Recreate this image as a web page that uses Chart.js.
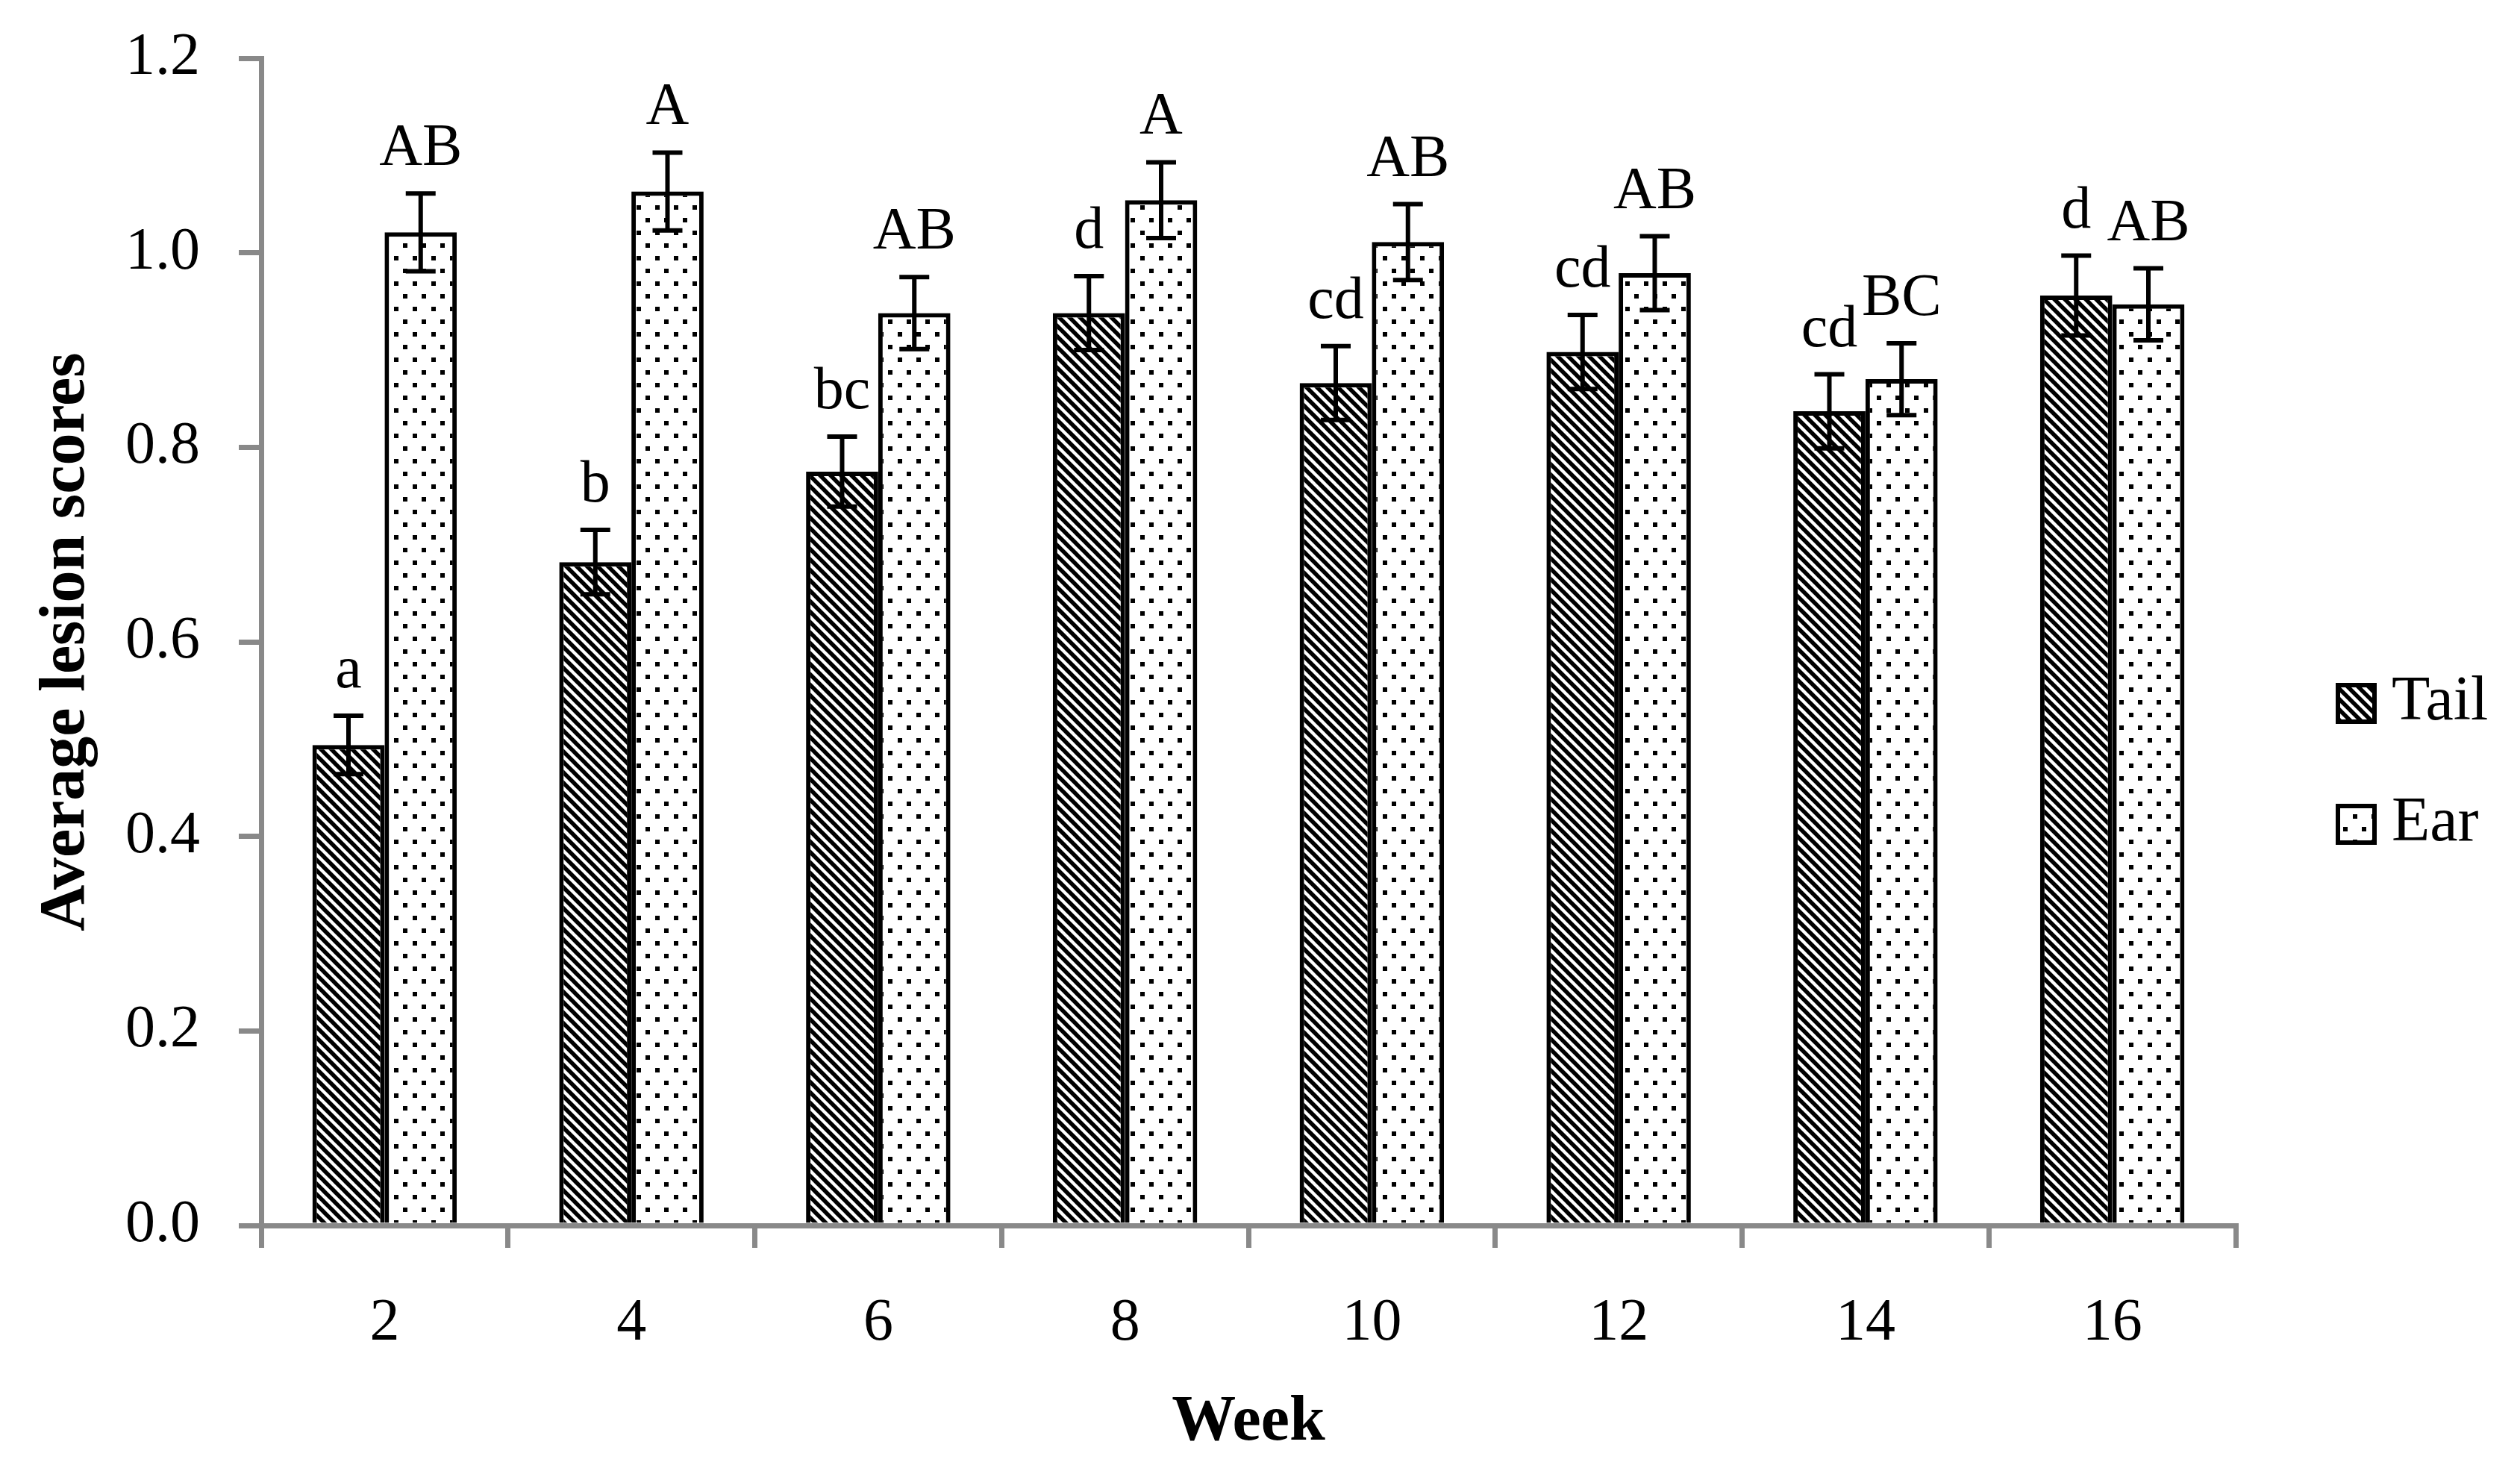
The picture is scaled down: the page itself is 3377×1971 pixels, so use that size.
<!DOCTYPE html>
<html><head><meta charset="utf-8">
<script src="https://cdn.jsdelivr.net/npm/chart.js@4.4.1/dist/chart.umd.min.js"></script>
<style>html,body{margin:0;padding:0;background:#fff;}canvas{display:block}</style>
</head><body>
<canvas id="c" width="3377" height="1971" style="width:3377px;height:1971px"></canvas>
<script>
const weeks = ['2','4','6','8','10','12','14','16'];
const tailValues = [0.494, 0.682, 0.775, 0.938, 0.866, 0.898, 0.837, 0.956];
const tailErrors = [0.030, 0.033, 0.036, 0.038, 0.038, 0.038, 0.038, 0.041];
const earValues = [1.021, 1.063, 0.938, 1.054, 1.011, 0.979, 0.870, 0.947];
const earErrors = [0.040, 0.040, 0.037, 0.039, 0.039, 0.038, 0.037, 0.037];
const tailLetters = ['a','b','bc','d','cd','cd','cd','d'];
const earLetters = ['AB','A','AB','A','AB','AB','BC','AB'];
const seriesNames = ['Tail','Ear'];
const yMin = 0, yMax = 1.2, yStep = 0.2;

const FONT = "'Liberation Serif', 'Times New Roman', serif";
const canvas = document.getElementById('c');
const ctx = canvas.getContext('2d');

function stripePattern(){
  const s = 14;
  const c = document.createElement('canvas'); c.width = s; c.height = s;
  const g = c.getContext('2d');
  g.fillStyle = '#fff'; g.fillRect(0,0,s,s);
  g.strokeStyle = '#000'; g.lineWidth = 5.5; g.lineCap = 'square';
  g.beginPath();
  for (let k=-1;k<=1;k++){ g.moveTo(k*s-3,-3); g.lineTo(k*s+s+3,s+3); }
  g.stroke();
  return ctx.createPattern(c,'repeat');
}
function dotPattern(){
  const w = 25, h = 34;
  const c = document.createElement('canvas'); c.width = w; c.height = h;
  const g = c.getContext('2d');
  g.fillStyle = '#fff'; g.fillRect(0,0,w,h);
  g.fillStyle = '#000';
  g.fillRect(3,3,6,6);
  g.fillRect(15,20,6,6);
  return ctx.createPattern(c,'repeat');
}
const tailFill = stripePattern();
const earFill = dotPattern();
const fills = [tailFill, earFill];
const errs = [tailErrors, earErrors];
const letters = [tailLetters, earLetters];

const errorPlugin = {
  id:'errs',
  afterDatasetsDraw(chart){
    const c = chart.ctx, ys = chart.scales.y;
    c.save();
    chart.data.datasets.forEach((ds,di)=>{
      const meta = chart.getDatasetMeta(di);
      meta.data.forEach((el,i)=>{
        const v = ds.data[i], e = errs[di][i];
        const top = ys.getPixelForValue(v+e), bot = ys.getPixelForValue(v-e);
        c.strokeStyle = '#000'; c.lineWidth = 6; c.lineCap = 'butt';
        c.beginPath();
        c.moveTo(el.x, top); c.lineTo(el.x, bot);
        c.moveTo(el.x-20, top); c.lineTo(el.x+20, top);
        c.moveTo(el.x-20, bot); c.lineTo(el.x+20, bot);
        c.stroke();
        c.fillStyle = '#000';
        c.font = '80px ' + FONT;
        c.textAlign = 'center'; c.textBaseline = 'alphabetic';
        c.fillText(letters[di][i], el.x, top - 38);
      });
    });
    c.restore();
  }
};
const legendPlugin = {
  id:'leg',
  afterDraw(chart){
    const c = chart.ctx;
    c.save();
    const ys = [942, 1104];
    seriesNames.forEach((n,i)=>{
      const bx = 3130, by = ys[i]-27, s = 55;
      c.fillStyle = fills[i];
      c.fillRect(bx,by,s,s);
      c.strokeStyle = '#000'; c.lineWidth = 6;
      c.strokeRect(bx+3,by+3,s-6,s-6);
      c.fillStyle = '#000';
      c.font = '84px ' + FONT;
      c.textAlign = 'left'; c.textBaseline = 'middle';
      c.fillText(n, 3205, ys[i]);
    });
    c.restore();
  }
};

new Chart(ctx, {
  type:'bar',
  data:{
    labels: weeks,
    datasets:[
      {label:seriesNames[0], data:tailValues, backgroundColor:tailFill, borderColor:'#000', borderWidth:6, borderSkipped:'start'},
      {label:seriesNames[1], data:earValues, backgroundColor:earFill, borderColor:'#000', borderWidth:6, borderSkipped:'start'}
    ]
  },
  options:{
    responsive:false, devicePixelRatio:1, animation:false,
    layout:{padding:{left:0, top:78, right:381, bottom:0}},
    datasets:{bar:{categoryPercentage:0.585, barPercentage:1}},
    plugins:{legend:{display:false}, tooltip:{enabled:false}},
    scales:{
      x:{
        offset:true,
        grid:{display:true, offset:true, drawOnChartArea:false, drawTicks:true, tickLength:30, color:'#898989', lineWidth:7},
        border:{display:true, color:'#898989', width:7},
        ticks:{color:'#000', font:{family:FONT, size:80}, padding:54},
        title:{display:true, text:'Week', color:'#000', font:{family:FONT, size:86, weight:'bold'}, padding:{top:0, bottom:13}},
        afterFit(s){ s.height = 329; s.paddingLeft = 0; s.paddingRight = 0; }
      },
      y:{
        min:yMin, max:yMax,
        ticks:{stepSize:yStep, color:'#000', font:{family:FONT, size:80}, padding:52, callback:v=>Number(v).toFixed(1)},
        grid:{display:true, drawOnChartArea:false, drawTicks:true, tickLength:30, color:'#898989', lineWidth:7},
        border:{display:true, color:'#898989', width:7},
        title:{display:true, text:'Average lesion scores', color:'#000', font:{family:FONT, size:86, weight:'bold'}, padding:{top:38, bottom:0}},
        afterFit(s){ s.width = 350; s.paddingTop = 0; s.paddingBottom = 0; }
      }
    }
  },
  plugins:[errorPlugin, legendPlugin]
});
</script>
</body></html>
